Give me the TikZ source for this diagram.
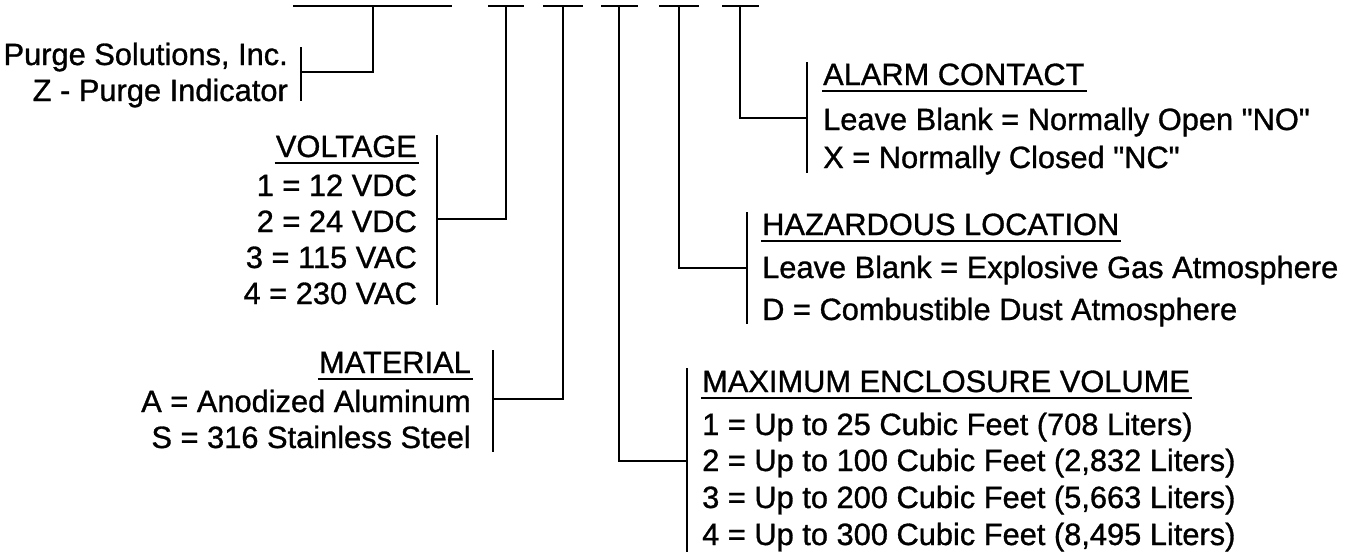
\documentclass[tikz,border=0pt]{standalone}
\usepackage{fontspec}
\newfontfamily\arialf{Liberation Sans}[FakeBold=1.0]
\begin{document}
\begin{tikzpicture}[x=1pt,y=-1pt,
  wire/.style={line width=2pt, black},
  ul/.style={line width=2pt, black},
  lbl/.style={inner sep=0pt, font=\arialf\fontsize{30.8}{36}\selectfont}]
\useasboundingbox (0,0) rectangle (1353,558);

% top code line segments
\coordinate (s1a) at (293,6);  \coordinate (s1b) at (452,6);
\coordinate (s2a) at (488,6);  \coordinate (s2b) at (524,6);
\coordinate (s3a) at (543,6);  \coordinate (s3b) at (583,6);
\coordinate (s4a) at (601,6);  \coordinate (s4b) at (638,6);
\coordinate (s5a) at (659,6);  \coordinate (s5b) at (699,6);
\coordinate (s6a) at (722,6);  \coordinate (s6b) at (759,6);
\foreach \i in {1,...,6} { \draw[wire] (s\i a) -- (s\i b); }

% drop points on the segments
\coordinate (t1) at (373,6);
\coordinate (t2) at (506,6);
\coordinate (t3) at (563,6);
\coordinate (t4) at (619,6);
\coordinate (t5) at (679,6);
\coordinate (t6) at (740,6);

% ---- Company / model
\node[lbl, anchor=base east] (p1) at (288,65) {Purge Solutions, Inc.};
\node[lbl, anchor=base east] (p2) at (288,101) {Z - Purge Indicator};
\coordinate (b1t) at (301,47); \coordinate (b1b) at (301,101); \coordinate (b1m) at (301,72);
\draw[wire] (b1t) -- (b1b);
\draw[wire] (b1m) -| (t1);

% ---- Voltage
\node[lbl, anchor=base east] (vh) at (417,157) {VOLTAGE};
\draw[ul] ([yshift=-6pt,xshift=-1pt]vh.base west) -- ([yshift=-6pt,xshift=2pt]vh.base east);
\node[lbl, anchor=base east] (v1) at (417,196) {1 = 12 VDC};
\node[lbl, anchor=base east] (v2) at (417,232) {2 = 24 VDC};
\node[lbl, anchor=base east] (v3) at (417,268) {3 = 115 VAC};
\node[lbl, anchor=base east] (v4) at (417,304) {4 = 230 VAC};
\coordinate (b2t) at (437,135); \coordinate (b2b) at (437,305); \coordinate (b2m) at (437,219);
\draw[wire] (b2t) -- (b2b);
\draw[wire] (b2m) -| (t2);

% ---- Material
\node[lbl, anchor=base east] (mh) at (471,373) {MATERIAL};
\draw[ul] ([yshift=-6pt,xshift=-1pt]mh.base west) -- ([yshift=-6pt,xshift=2pt]mh.base east);
\node[lbl, anchor=base east] (m1) at (471,412) {A = Anodized Aluminum};
\node[lbl, anchor=base east] (m2) at (471,448) {S = 316 Stainless Steel};
\coordinate (b3t) at (493,350); \coordinate (b3b) at (493,452); \coordinate (b3m) at (493,399);
\draw[wire] (b3t) -- (b3b);
\draw[wire] (b3m) -| (t3);

% ---- Maximum enclosure volume
\node[lbl, anchor=base west] (eh) at (702,392) {MAXIMUM ENCLOSURE VOLUME};
\draw[ul] ([yshift=-6pt,xshift=-1pt]eh.base west) -- ([yshift=-6pt,xshift=2pt]eh.base east);
\node[lbl, anchor=base west] (e1) at (702,435) {1 = Up to 25 Cubic Feet (708 Liters)};
\node[lbl, anchor=base west] (e2) at (702,471) {2 = Up to 100 Cubic Feet (2,832 Liters)};
\node[lbl, anchor=base west] (e3) at (702,508) {3 = Up to 200 Cubic Feet (5,663 Liters)};
\node[lbl, anchor=base west] (e4) at (702,545) {4 = Up to 300 Cubic Feet (8,495 Liters)};
\coordinate (b4t) at (687,368); \coordinate (b4b) at (687,552); \coordinate (b4m) at (687,461);
\draw[wire] (b4t) -- (b4b);
\draw[wire] (b4m) -| (t4);

% ---- Hazardous location
\node[lbl, anchor=base west] (hh) at (762,235) {HAZARDOUS LOCATION};
\draw[ul] ([yshift=-6pt,xshift=-1pt]hh.base west) -- ([yshift=-6pt,xshift=2pt]hh.base east);
\node[lbl, anchor=base west] (h1) at (762,278) {Leave Blank = Explosive Gas Atmosphere};
\node[lbl, anchor=base west] (h2) at (762,320) {D = Combustible Dust Atmosphere};
\coordinate (b5t) at (747,212); \coordinate (b5b) at (747,324); \coordinate (b5m) at (747,268);
\draw[wire] (b5t) -- (b5b);
\draw[wire] (b5m) -| (t5);

% ---- Alarm contact
\node[lbl, anchor=base west] (ah) at (823,85) {ALARM CONTACT};
\draw[ul] ([yshift=-6pt,xshift=-1pt]ah.base west) -- ([yshift=-6pt,xshift=2pt]ah.base east);
\node[lbl, anchor=base west] (a1) at (823,130) {Leave Blank = Normally Open "NO"};
\node[lbl, anchor=base west] (a2) at (823,168) {X = Normally Closed "NC"};
\coordinate (b6t) at (807,62); \coordinate (b6b) at (807,173); \coordinate (b6m) at (807,118);
\draw[wire] (b6t) -- (b6b);
\draw[wire] (b6m) -| (t6);
\end{tikzpicture}
\end{document}
